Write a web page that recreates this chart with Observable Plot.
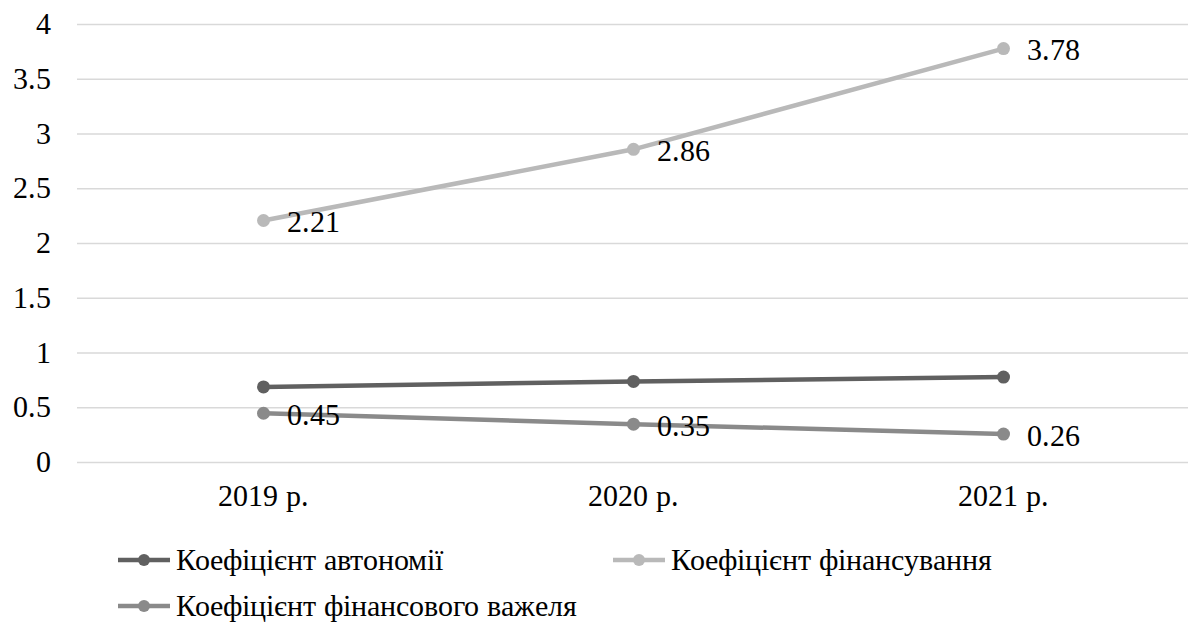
<!DOCTYPE html>
<html>
<head>
<meta charset="utf-8">
<script src="https://cdn.jsdelivr.net/npm/d3@7"></script>
<script src="https://cdn.jsdelivr.net/npm/@observablehq/plot@0.6"></script>
<style>
  @font-face {
    font-family: "RefSerif";
    src: local("Liberation Serif"), local("LiberationSerif"), local("LiberationSerif-Regular"),
         local("Tinos"), local("Tinos-Regular"), local("Times New Roman"), local("DejaVu Serif"),
         local("DejaVuSerif"), local("Noto Serif"), local("NotoSerif-Regular"), local("FreeSerif");
  }
  html, body { margin: 0; padding: 0; background: #fff; }
  body { width: 1188px; height: 628px; overflow: hidden; font-family: "RefSerif", "Liberation Serif", "Times New Roman", Tinos, "Noto Serif", "DejaVu Serif", serif; }
  #chart svg { display: block; }
  #legend { position: relative; height: 98px; font-size: 30px; color: #000; }
  .item { position: absolute; display: flex; align-items: center; white-space: nowrap; height: 40px; }
  .item svg { margin-right: 6px; display: block; }
</style>
</head>
<body>
<div id="chart"></div>
<div id="legend"></div>
<script>
const years = ["2019 р.", "2020 р.", "2021 р."];
const seriesNames = ["Коефіцієнт автономії", "Коефіцієнт фінансування", "Коефіцієнт фінансового важеля"];
const autonomy = [0.69, 0.74, 0.78];
const financing = [2.21, 2.86, 3.78];
const leverage = [0.45, 0.35, 0.26];
const seriesColors = ["#606060", "#b9b9b9", "#8a8a8a"];
const labelled = [false, true, true];
const yTicks = [0, 0.5, 1, 1.5, 2, 2.5, 3, 3.5, 4];

const seriesValues = [autonomy, financing, leverage];
const rows = [];
seriesNames.forEach((name, si) => {
  years.forEach((yr, i) => rows.push({series: name, year: yr, value: seriesValues[si][i], label: labelled[si]}));
});

const FONT = "RefSerif, 'Liberation Serif', 'Times New Roman', Tinos, 'Noto Serif', 'DejaVu Serif', serif";
const chart = Plot.plot({
  width: 1188,
  height: 530,
  marginLeft: 77,
  marginRight: 0,
  marginTop: 24,
  marginBottom: 68,
  style: {fontFamily: FONT, fontSize: "30px", color: "#000", background: "#fff"},
  x: {type: "point", domain: years, padding: 0.5, label: null},
  y: {domain: [0, 4], label: null},
  color: {domain: seriesNames, range: seriesColors},
  marks: [
    Plot.ruleY(yTicks, {y: d => d, stroke: "#d9d9d9", strokeWidth: 1.5}),
    Plot.axisY({ticks: yTicks, tickSize: 0, tickPadding: 27, tickFormat: d => String(d), fontSize: 30, fontFamily: FONT, label: null}),
    Plot.axisX({tickSize: 0, tickPadding: 22, fontSize: 30, fontFamily: FONT, label: null}),
    Plot.line(rows, {x: "year", y: "value", z: "series", stroke: "series", strokeWidth: 4.5}),
    Plot.dot(rows, {x: "year", y: "value", fill: "series", r: 6.5}),
    Plot.text(rows.filter(d => d.label), {x: "year", y: "value", text: d => d.value.toFixed(2), textAnchor: "start", dx: 23, dy: 2, fontSize: 30, fontFamily: FONT, fill: "#000"})
  ]
});
document.getElementById("chart").appendChild(chart);

const legend = document.getElementById("legend");
const positions = [[118, 30], [613, 30], [118, 76]];
seriesNames.forEach((name, i) => {
  const div = document.createElement("div");
  div.className = "item";
  div.style.left = positions[i][0] + "px";
  div.style.top = (positions[i][1] - 20) + "px";
  div.innerHTML = `<svg width="52" height="16"><line x1="0" x2="52" y1="8" y2="8" stroke="${seriesColors[i]}" stroke-width="4.5"/><circle cx="26" cy="8" r="6" fill="${seriesColors[i]}"/></svg><span>${name}</span>`;
  legend.appendChild(div);
});
</script>
</body>
</html>
